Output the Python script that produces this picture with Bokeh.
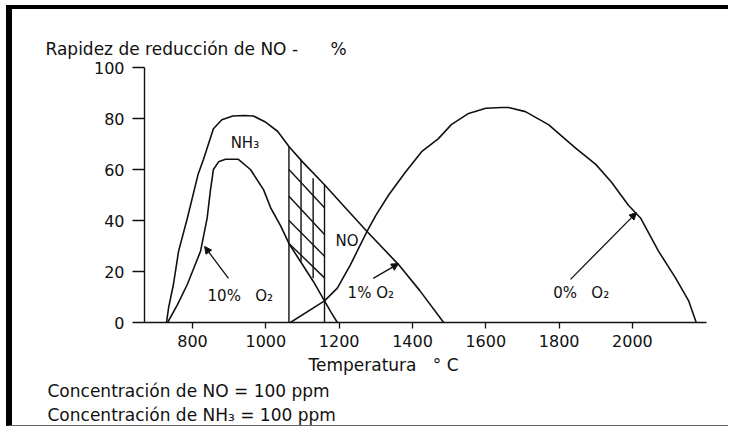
from bokeh.plotting import figure
from bokeh.models import Range1d, Label, Arrow, NormalHead, ColumnDataSource, FixedTicker, Title
from bokeh.embed import file_html
from bokeh.resources import INLINE

# ---- data ----
x_ticks = [800, 1000, 1200, 1400, 1600, 1800, 2000]
y_ticks = [0, 20, 40, 60, 80, 100]

# NH3 curve (1% O2), outer
t_1pct = [729, 735, 748, 762, 786, 815, 830, 857, 880, 910, 940, 966, 1000, 1032,
          1063, 1100, 1160, 1220, 1276, 1362, 1420, 1485]
r_1pct = [0, 6, 15, 28, 41, 58, 64, 76, 79.5, 81, 81.2, 81, 78.5, 75,
          69, 63, 54, 44.5, 35.7, 22.7, 12.5, 0]

# 10% O2 curve, inner
t_10pct = [732, 759, 786, 822, 840, 849, 857, 871, 890, 925, 958, 994, 1013, 1040,
           1063, 1094, 1130, 1160, 1178, 1195]
r_10pct = [0, 7, 15, 28, 41, 52, 60, 63, 64, 64, 60, 52, 45, 38,
           31, 24, 16, 8.5, 4, 0]

# 0% O2 curve (dome)
t_0pct = [1067, 1160, 1195, 1231, 1258, 1276, 1300, 1335, 1381, 1425, 1470, 1506,
          1553, 1600, 1643, 1662, 1708, 1771, 1845, 1900, 1943, 1989, 2022, 2071,
          2117, 2153, 2174]
r_0pct = [0, 8.5, 13.5, 22.7, 30.5, 35.7, 42, 50, 59, 67, 72, 77.6,
          82, 84, 84.3, 84.3, 82.7, 77.6, 68.4, 62, 55, 46, 41, 28,
          17.6, 8.6, 0]

# hatched window
hatch_v_t = [1063, 1096, 1129, 1160]
hatch_v_top = [69, 63.8, 56.6, 54]
hatch_v_bot = [0, 23.9, 17.4, 0]
hatch_d_t0 = [1063, 1063, 1063, 1063]
hatch_d_r0 = [60, 49.5, 40, 31]
hatch_d_t1 = [1160, 1160, 1160, 1160]
hatch_d_r1 = [45, 34.5, 26, 17.5]

# annotation arrows
arrow_t0 = [898, 1293, 1831]
arrow_r0 = [17.3, 17.3, 16.9]
arrow_t1 = [833, 1362, 2011]
arrow_r1 = [29.8, 23.1, 43.1]

FONT = "DejaVu Sans"
INK = "#111111"

p = figure(width=722, height=421, x_range=Range1d(669, 2202), y_range=Range1d(0, 100),
           output_backend="svg", toolbar_location=None,
           min_border_left=132, min_border_right=28, min_border_top=58, min_border_bottom=108)
p.styles = {"border-top": "4px solid #000", "border-left": "6px solid #000",
            "border-bottom": "1px solid #666", "margin-top": "5px", "margin-left": "6px"}
p.outline_line_color = None
p.xgrid.grid_line_color = None
p.ygrid.grid_line_color = None
p.background_fill_color = "white"
p.border_fill_color = "white"

for ax in (p.xaxis[0], p.yaxis[0]):
    ax.axis_line_color = INK
    ax.axis_line_width = 1.4
    ax.major_tick_line_color = INK
    ax.major_tick_line_width = 1.3
    ax.major_tick_in = 0
    ax.minor_tick_in = 0
    ax.minor_tick_out = 0
    ax.major_label_text_font = FONT
    ax.major_label_text_font_size = "16px"
    ax.major_label_text_color = INK

p.xaxis.ticker = FixedTicker(ticks=x_ticks)
p.yaxis.ticker = FixedTicker(ticks=y_ticks)
p.xaxis.major_tick_out = 6
p.xaxis.major_label_standoff = 6
p.yaxis.major_tick_out = 12
p.yaxis.major_label_standoff = 8

lw = 1.6
p.line(t_1pct, r_1pct, line_color=INK, line_width=lw)
p.line(t_10pct, r_10pct, line_color=INK, line_width=lw)
p.line(t_0pct, r_0pct, line_color=INK, line_width=lw)

p.segment(x0=hatch_v_t, y0=hatch_v_bot, x1=hatch_v_t, y1=hatch_v_top, line_color=INK, line_width=1.4)
p.segment(x0=hatch_d_t0, y0=hatch_d_r0, x1=hatch_d_t1, y1=hatch_d_r1, line_color=INK, line_width=1.4)

arrow_src = ColumnDataSource(dict(x0=arrow_t0, y0=arrow_r0, x1=arrow_t1, y1=arrow_r1))
p.add_layout(Arrow(source=arrow_src, x_start="x0", y_start="y0", x_end="x1", y_end="y1",
                   line_color=INK, line_width=1.3,
                   end=NormalHead(size=7, fill_color=INK, line_color=INK)))

def lab(x, y, text, size="15px"):
    p.add_layout(Label(x=x, y=y, text=text, text_font=FONT, text_font_size=size,
                       text_color=INK, text_align="left", text_baseline="middle"))

lab(904, 70.2, "NH\u2083")
lab(841, 10.2, "10%\u00a0\u00a0\u00a0O\u2082")
lab(1223, 11.4, "1%\u00a0O\u2082")
lab(1784, 11.4, "0%\u00a0\u00a0\u00a0O\u2082")
lab(1190, 31.8, "NO")

# texts outside the plotting area, as titles
p.title = Title(text="Rapidez de reducci\u00f3n de NO -\u00a0\u00a0\u00a0\u00a0\u00a0\u00a0%",
                align="left", offset=-99, standoff=18, text_font=FONT,
                text_font_size="17px", text_font_style="normal", text_color=INK)

def below(text, offset, standoff):
    p.add_layout(Title(text=text, align="left", offset=offset, standoff=standoff,
                       text_font=FONT, text_font_size="17px", text_font_style="normal",
                       text_color=INK), "below")

below("Temperatura\u00a0\u00a0\u00a0\u00b0 C", 164, 6)
below("Concentraci\u00f3n de NO = 100 ppm", -97, 2)
below("Concentraci\u00f3n de NH\u2083 = 100 ppm", -97, 2)

open("out.html", "w").write(file_html(p, INLINE))
